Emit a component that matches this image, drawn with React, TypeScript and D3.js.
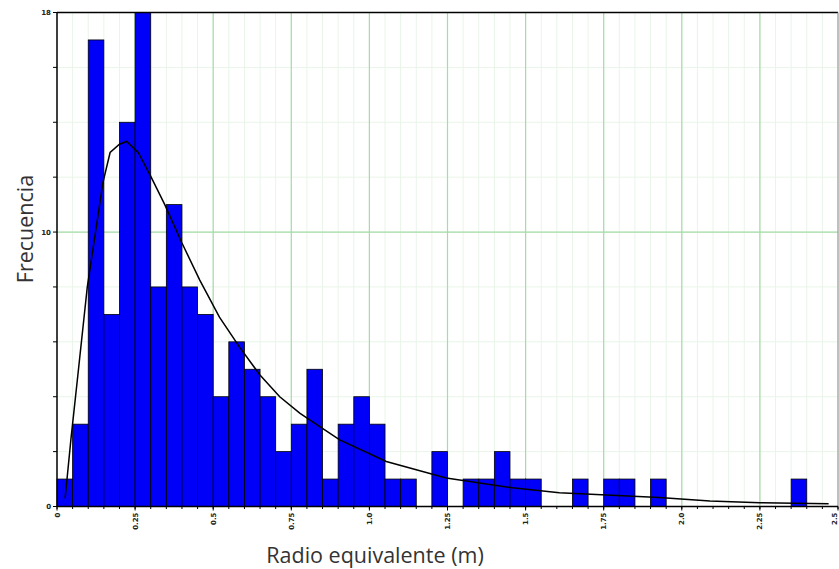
import React from "react";
import * as d3 from "d3";

// Histogram: bins of 0.05 m from 0 to 2.5
const binStarts: number[] = [
  0, 0.05, 0.1, 0.15, 0.2, 0.25, 0.3, 0.35, 0.4, 0.45,
  0.5, 0.55, 0.6, 0.65, 0.7, 0.75, 0.8, 0.85, 0.9, 0.95,
  1.0, 1.05, 1.1, 1.15, 1.2, 1.25, 1.3, 1.35, 1.4, 1.45,
  1.5, 1.55, 1.6, 1.65, 1.7, 1.75, 1.8, 1.85, 1.9, 1.95,
  2.0, 2.05, 2.1, 2.15, 2.2, 2.25, 2.3, 2.35, 2.4, 2.45,
];
const counts: number[] = [
  1, 3, 17, 7, 14, 18, 8, 11, 8, 7,
  4, 6, 5, 4, 2, 3, 5, 1, 3, 4,
  3, 1, 1, 0, 2, 0, 1, 1, 2, 1,
  1, 0, 0, 1, 0, 1, 1, 0, 1, 0,
  0, 0, 0, 0, 0, 0, 0, 1, 0, 0,
];
const binWidth = 0.05;

// Fitted density curve
const curveX: number[] = [
  0.026, 0.045, 0.065, 0.097, 0.147, 0.17, 0.2, 0.223, 0.26, 0.297,
  0.345, 0.4, 0.457, 0.52, 0.585, 0.649, 0.713, 0.777, 0.809, 0.905,
  1.054, 1.246, 1.458, 1.608, 1.928, 2.09, 2.25, 2.47,
];
const curveY: number[] = [
  0.3, 2.5, 4.6, 8.0, 11.8, 12.9, 13.2, 13.3, 12.9, 12.1,
  11.0, 9.6, 8.25, 6.9, 5.8, 4.8, 4.0, 3.4, 3.16, 2.43,
  1.64, 1.04, 0.68, 0.5, 0.33, 0.2, 0.14, 0.1,
];

const xMajorTicks: number[] = [0, 0.25, 0.5, 0.75, 1.0, 1.25, 1.5, 1.75, 2.0, 2.25, 2.5];
const xTickLabels: string[] = ["0", "0.25", "0.5", "0.75", "1.0", "1.25", "1.5", "1.75", "2.0", "2.25", "2.5"];
const yLabelTicks: number[] = [0, 10, 18];
const yMinorTicks: number[] = [0, 2, 4, 6, 8, 10, 12, 14, 16, 18];

const W = 839;
const H = 569;

export default function App() {
  const x = d3.scaleLinear().domain([0, 2.5]).range([57, 838]);
  const y = d3.scaleLinear().domain([0, 18]).range([506.5, 12.5]);

  const xMinor = d3.range(0, 51).map((i) => i * 0.05);

  const line = d3
    .line<number>()
    .x((_, i) => x(curveX[i]))
    .y((d) => y(d));

  return (
    <div style={{ position: "absolute", left: 0, top: 0 }}>
      <svg width={W} height={H} style={{ display: "block", background: "#fff" }}>
        {/* minor grid */}
        {xMinor.map((v, i) => (
          <line key={"xm" + i} x1={x(v)} x2={x(v)} y1={y(18)} y2={y(0)} stroke="#e8f5e8" strokeWidth={1} />
        ))}
        {yMinorTicks.map((v, i) => (
          <line key={"ym" + i} x1={x(0)} x2={x(2.5)} y1={y(v)} y2={y(v)} stroke="#e8f5e8" strokeWidth={1} />
        ))}
        {/* major grid */}
        {xMajorTicks.slice(1, -1).map((v, i) => (
          <line key={"xM" + i} x1={x(v)} x2={x(v)} y1={y(18)} y2={y(0)} stroke="#a6dca6" strokeWidth={1.2} />
        ))}
        <line x1={x(0)} x2={x(2.5)} y1={y(10)} y2={y(10)} stroke="#a6dca6" strokeWidth={1.2} />

        {/* bars */}
        {counts.map((c, i) =>
          c > 0 ? (
            <rect
              key={"b" + i}
              x={x(binStarts[i])}
              y={y(c)}
              width={x(binStarts[i] + binWidth) - x(binStarts[i])}
              height={y(0) - y(c)}
              fill="#0000f8"
              stroke="#000"
              strokeWidth={0.8}
            />
          ) : null
        )}

        {/* fitted curve */}
        <path d={line(curveY) || ""} fill="none" stroke="#000" strokeWidth={1.5} />

        {/* frame */}
        <line x1={x(0)} x2={x(2.5)} y1={y(18)} y2={y(18)} stroke="#000" strokeWidth={1.5} />
        <line x1={x(2.5)} x2={x(2.5)} y1={y(18)} y2={y(0)} stroke="#888" strokeWidth={1} />
        <line x1={x(0)} x2={x(0)} y1={y(18)} y2={y(0)} stroke="#000" strokeWidth={1.5} />
        <line x1={x(0)} x2={x(2.5)} y1={y(0)} y2={y(0)} stroke="#000" strokeWidth={1.5} />

        {/* x ticks */}
        {xMinor.map((v, i) => (
          <line key={"xt" + i} x1={x(v)} x2={x(v)} y1={y(0)} y2={y(0) + 2.5} stroke="#000" strokeWidth={1} />
        ))}
        {xMajorTicks.map((v, i) => (
          <g key={"xl" + i}>
            <line x1={x(v)} x2={x(v)} y1={y(0)} y2={y(0) + 4} stroke="#000" strokeWidth={1} />
            <text
              transform={`translate(${Math.min(x(v) + 2.5, 837)},${y(0) + 6}) rotate(-90)`}
              textAnchor="end"
              fontFamily="DejaVu Sans"
              fontWeight="bold"
              fontSize={7}
              fill="#222"
            >
              {xTickLabels[i]}
            </text>
          </g>
        ))}

        {/* y ticks */}
        {yMinorTicks.map((v, i) => (
          <line key={"yt" + i} x1={x(0) - 4} x2={x(0)} y1={y(v)} y2={y(v)} stroke="#000" strokeWidth={1} />
        ))}
        {yLabelTicks.map((v, i) => (
          <text
            key={"yl" + i}
            x={x(0) - 6}
            y={y(v) + 2.5}
            textAnchor="end"
            fontFamily="DejaVu Sans"
            fontWeight="bold"
            fontSize={7}
            fill="#222"
          >
            {v}
          </text>
        ))}

        {/* axis titles */}
        <text
          x={375}
          y={563}
          textAnchor="middle"
          fontFamily="Open Sans"
          fontSize={21.5}
          fill="#333"
        >
          Radio equivalente (m)
        </text>
        <text
          transform={`translate(33,229) rotate(-90)`}
          textAnchor="middle"
          fontFamily="Open Sans"
          fontSize={21.5}
          fill="#333"
        >
          Frecuencia
        </text>
      </svg>
    </div>
  );
}
